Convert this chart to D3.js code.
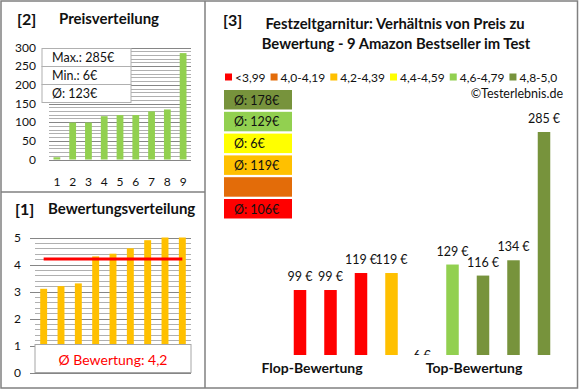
<!DOCTYPE html>
<html>
<head>
<meta charset="utf-8">
<script src="https://cdn.jsdelivr.net/npm/d3@7"></script>
<style>
  body { margin: 0; background: #fff; }
  svg { font-family: Lato, "Open Sans", sans-serif; }
</style>
</head>
<body>
<svg id="chart" width="580" height="390"></svg>
<script>
// ---- data ----
const productIds = ["1", "2", "3", "4", "5", "6", "7", "8", "9"];
const prices = [6, 99, 99, 116, 119, 119, 129, 134, 285];     // panel [2]
const priceStats = ["Max.: 285€", "Min.: 6€", "Ø: 123€"];
const ratings = [3.1, 3.2, 3.3, 4.3, 4.4, 4.6, 4.9, 5.0, 5.0]; // panel [1]
const avgRating = 4.2;

const bandLabels = ["<3,99", "4,0-4,19", "4,2-4,39", "4,4-4,59", "4,6-4,79", "4,8-5,0"];
const bandColors = ["#ff0000", "#e36c09", "#ffc000", "#ffff00", "#92d050", "#77933c"];
const bandAvgPrice = [106, null, 119, 6, 129, 178];

const rankPrices = [99, 99, 119, 119, 6, 129, 116, 134, 285];  // panel [3]
const rankBand = [0, 0, 0, 2, 3, 4, 5, 5, 5];
const groups = ["Flop-Bewertung", "Top-Bewertung"];

const svg = d3.select("#chart");
const txt = "#111";

// panel frames
svg.append("rect").attr("x", 1).attr("y", 1).attr("width", 576.5).attr("height", 387)
  .attr("fill", "none").attr("stroke", "#808080").attr("stroke-width", 1.5);
svg.append("line").attr("x1", 205).attr("x2", 205).attr("y1", 1).attr("y2", 388)
  .attr("stroke", "#808080").attr("stroke-width", 1.5);
svg.append("line").attr("x1", 1).attr("x2", 205).attr("y1", 192).attr("y2", 192)
  .attr("stroke", "#808080").attr("stroke-width", 1.5);

function panelTitle(num, title, x, y, tx) {
  svg.append("text").attr("x", x).attr("y", y).attr("font-size", 16).attr("font-weight", "bold")
    .attr("fill", txt).text(num);
  svg.append("text").attr("x", tx).attr("y", y - 1).attr("font-size", 15).attr("font-weight", "bold")
    .attr("fill", txt).text(title);
}

function grid(g, y, x0, x1, minorTicks, majorTicks) {
  g.selectAll("line.minor").data(minorTicks).enter().append("line")
    .attr("x1", x0).attr("x2", x1).attr("y1", d => Math.round(y(d)) + 0.5).attr("y2", d => Math.round(y(d)) + 0.5)
    .attr("stroke", "#b0b0b0").attr("stroke-width", 1);
  g.selectAll("line.major").data(majorTicks).enter().append("line")
    .attr("x1", x0).attr("x2", x1).attr("y1", d => Math.round(y(d)) + 0.5).attr("y2", d => Math.round(y(d)) + 0.5)
    .attr("stroke", "#868686").attr("stroke-width", 1);
}

/////////////// panel [2] Preisverteilung ///////////////
panelTitle("[2]", "Preisverteilung", 17, 25, 59);
{
  const x = d3.scaleBand().domain(productIds).range([49, 191]).paddingInner(0.57).paddingOuter(0.285);
  const y = d3.scaleLinear().domain([0, 300]).range([159.5, 47.5]);
  const g = svg.append("g");
  grid(g, y, 49, 191, d3.range(0, 301, 10), y.ticks(6));

  g.selectAll("text.yl").data(y.ticks(6)).enter().append("text")
    .attr("x", 36).attr("y", d => y(d) + 4).attr("text-anchor", "end")
    .attr("font-size", 12).attr("fill", txt).text(d => d);

  g.selectAll("rect.bar").data(prices).enter().append("rect")
    .attr("x", (d, i) => x(productIds[i])).attr("width", x.bandwidth())
    .attr("y", d => y(d)).attr("height", d => y(0) - y(d))
    .attr("fill", "#92d050");

  g.selectAll("text.xl").data(productIds).enter().append("text")
    .attr("x", d => x(d) + x.bandwidth() / 2).attr("y", 186).attr("text-anchor", "middle")
    .attr("font-size", 12).attr("fill", txt).text(d => d);

  // stats box
  const bx = 42, by = 48.5, bw = 89, rh = 18;
  priceStats.forEach((s, i) => {
    g.append("rect").attr("x", bx).attr("y", by + i * rh).attr("width", bw).attr("height", rh)
      .attr("fill", "#fff").attr("stroke", "#b0b0b0");
    g.append("text").attr("x", bx + 10).attr("y", by + i * rh + 13.5)
      .attr("font-size", 12.5).attr("fill", txt).text(s);
  });
}

/////////////// panel [1] Bewertungsverteilung ///////////////
panelTitle("[1]", "Bewertungsverteilung", 15, 215, 48);
{
  const x = d3.scaleBand().domain(productIds).range([35, 191]).paddingInner(0.6).paddingOuter(0.3);
  const y = d3.scaleLinear().domain([0, 5]).range([372.5, 237.5]);
  const g = svg.append("g");
  grid(g, y, 35, 191, d3.range(0, 5.01, 0.2), y.ticks(5));

  g.selectAll("line.tick").data(y.ticks(5)).enter().append("line")
    .attr("x1", 30).attr("x2", 35).attr("y1", d => Math.round(y(d)) + 0.5).attr("y2", d => Math.round(y(d)) + 0.5)
    .attr("stroke", "#868686");
  g.selectAll("text.yl").data(y.ticks(5)).enter().append("text")
    .attr("x", 21).attr("y", d => y(d) + 4).attr("text-anchor", "end")
    .attr("font-size", 12).attr("fill", txt).text(d => d);

  g.selectAll("rect.bar").data(ratings).enter().append("rect")
    .attr("x", (d, i) => x(productIds[i])).attr("width", x.bandwidth())
    .attr("y", d => y(d)).attr("height", d => y(0) - y(d))
    .attr("fill", "#ffc000");

  // average line from first to last bar centre
  g.append("line")
    .attr("x1", x(productIds[0]) + x.bandwidth() / 2)
    .attr("x2", x(productIds[productIds.length - 1]) + x.bandwidth() / 2)
    .attr("y1", y(avgRating)).attr("y2", y(avgRating))
    .attr("stroke", "#ff0000").attr("stroke-width", 3);

  g.append("rect").attr("x", 35).attr("y", y(1) - 1).attr("width", 156).attr("height", y(0) - y(1) + 1)
    .attr("fill", "#fff").attr("stroke", "#a6a6a6");
  g.append("text").attr("x", 113).attr("y", 365).attr("text-anchor", "middle")
    .attr("font-size", 14).attr("fill", "#ff0000")
    .text("Ø Bewertung: " + String(avgRating).replace(".", ","));
}

/////////////// panel [3] Preis zu Bewertung ///////////////
svg.append("text").attr("x", 223).attr("y", 26).attr("font-size", 16).attr("font-weight", "bold")
  .attr("fill", txt).text("[3]");
svg.append("text").attr("x", 395).attr("y", 29).attr("text-anchor", "middle")
  .attr("font-size", 14.8).attr("font-weight", "bold").attr("fill", txt)
  .text("Festzeltgarnitur: Verhältnis von Preis zu");
svg.append("text").attr("x", 396).attr("y", 49).attr("text-anchor", "middle")
  .attr("font-size", 14.8).attr("font-weight", "bold").attr("fill", txt)
  .text("Bewertung - 9 Amazon Bestseller im Test");

// legend row, flowed by text width
{
  let lx = 225;
  bandLabels.forEach((lab, i) => {
    svg.append("rect").attr("x", lx).attr("y", 73.5).attr("width", 7).attr("height", 7).attr("fill", bandColors[i]);
    const t = svg.append("text").attr("x", lx + 10).attr("y", 81.5)
      .attr("font-size", 12).attr("fill", txt).text(lab);
    lx += 10 + t.node().getComputedTextLength() + 5;
  });
}
svg.append("text").attr("x", 563).attr("y", 98).attr("text-anchor", "end")
  .attr("font-size", 12.5).attr("fill", txt).text("©Testerlebnis.de");

// average price boxes (best band on top)
{
  const order = d3.range(bandLabels.length).reverse();
  order.forEach((b, k) => {
    const top = 90 + k * 21.8;
    svg.append("rect").attr("x", 224).attr("y", top).attr("width", 68).attr("height", 19.5)
      .attr("fill", bandColors[b]);
    if (bandAvgPrice[b] != null) {
      svg.append("text").attr("x", 234).attr("y", top + 14.5)
        .attr("font-size", 12.5).attr("fill", txt).text("Ø: " + bandAvgPrice[b] + "€");
    }
  });
}

{
  const idx = d3.range(rankPrices.length);
  const x = d3.scaleBand().domain(idx).range([284.75, 559.25]).paddingInner(0.59).paddingOuter(0.295);
  const y = d3.scaleLinear().domain([22.5, 285]).range([355, 132]);

  svg.append("clipPath").attr("id", "plot3").append("rect")
    .attr("x", 206).attr("y", 100).attr("width", 370).attr("height", 255);
  const g = svg.append("g").attr("clip-path", "url(#plot3)");

  g.selectAll("rect.bar").data(rankPrices).enter().append("rect")
    .attr("x", (d, i) => x(i)).attr("width", x.bandwidth())
    .attr("y", d => Math.min(y(d), y.range()[0])).attr("height", d => Math.max(0, y.range()[0] - y(d)))
    .attr("fill", (d, i) => bandColors[rankBand[i]]);

  g.selectAll("text.val").data(rankPrices).enter().append("text")
    .attr("x", (d, i) => x(i) + x.bandwidth() / 2).attr("y", d => y(d) - 9)
    .attr("text-anchor", "middle").attr("font-size", 12.5).attr("fill", txt)
    .text(d => d + " €");

  const gx = d3.scalePoint().domain(groups).range([312, 474]);
  svg.selectAll("text.grp").data(groups).enter().append("text")
    .attr("x", d => gx(d)).attr("y", 373).attr("text-anchor", "middle")
    .attr("font-size", 14).attr("font-weight", "bold").attr("fill", txt).text(d => d);
}
</script>
</body>
</html>
